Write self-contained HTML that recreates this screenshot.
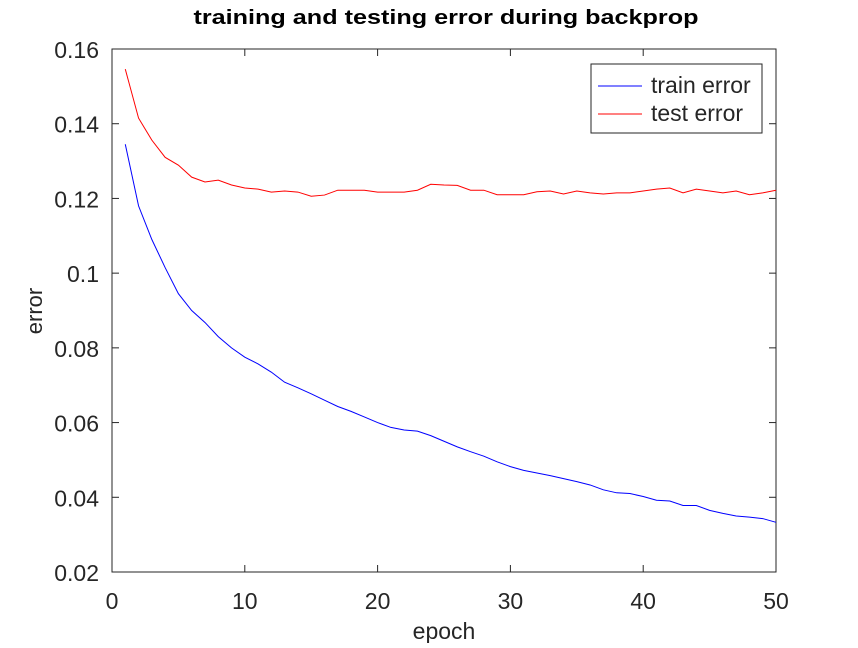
<!DOCTYPE html>
<html><head><meta charset="utf-8"><style>
body{margin:0;background:#fff;}
svg{font-family:"Liberation Sans",sans-serif;}
</style></head><body>
<svg id="chart" width="858" height="643">
<rect width="858" height="643" fill="#fff"/>
<text x="446" y="24" text-anchor="middle" font-size="20" font-weight="bold" textLength="505" lengthAdjust="spacingAndGlyphs">training and testing error during backprop</text>
<g id="axes"></g>
<g id="series"></g>
<g>
<rect x="591" y="64" width="171" height="69" fill="#fff" stroke="#262626" stroke-width="1"/>
<line x1="598" y1="86" x2="642" y2="86" stroke="#00f"/>
<text x="651" y="93" font-size="23" fill="#262626">train error</text>
<line x1="598" y1="114" x2="642" y2="114" stroke="#f00"/>
<text x="651" y="121" font-size="23" fill="#262626">test error</text>
</g>
</svg>
<script>
const epochs=[];for(let i=1;i<=50;i++)epochs.push(i);
const trainError=[0.1345,0.118,0.109,0.1015,0.0945,0.090,0.0868,0.083,0.080,0.0775,0.0757,0.0735,0.0708,0.0693,0.0677,0.066,0.0643,0.063,0.0615,0.060,0.0587,0.058,0.0577,0.0565,0.055,0.0535,0.0522,0.051,0.0495,0.0482,0.0472,0.0465,0.0458,0.045,0.0442,0.0433,0.042,0.0412,0.041,0.0402,0.0392,0.039,0.0378,0.0378,0.0365,0.0357,0.035,0.0347,0.0343,0.0333];
const testError=[0.1546,0.1415,0.1356,0.131,0.1289,0.1257,0.1244,0.1249,0.1236,0.1228,0.1225,0.1217,0.122,0.1217,0.1206,0.1209,0.1222,0.1222,0.1222,0.1217,0.1217,0.1217,0.1222,0.1238,0.1236,0.1235,0.1222,0.1222,0.121,0.121,0.121,0.1218,0.122,0.1212,0.122,0.1215,0.1212,0.1215,0.1215,0.122,0.1225,0.1228,0.1215,0.1225,0.122,0.1215,0.122,0.121,0.1215,0.1222];
const xTicks=[0,10,20,30,40,50];
const yTicks=[0.02,0.04,0.06,0.08,0.1,0.12,0.14,0.16];
const yTickLabels=["0.02","0.04","0.06","0.08","0.1","0.12","0.14","0.16"];
const L=112,R=776,T=49,B=572;
const xS=v=>L+(v-0)/50*(R-L);
const yS=v=>B-(v-0.02)/0.14*(B-T);
const NS="http://www.w3.org/2000/svg";
const C="#262626";
function mk(tag,attrs,parent){const e=document.createElementNS(NS,tag);for(const k in attrs)e.setAttribute(k,attrs[k]);parent.appendChild(e);return e;}
const ax=document.getElementById('axes');
const frame=mk('rect',{x:L,y:T,width:R-L,height:B-T,fill:'none',stroke:C,'stroke-width':1},ax);


xTicks.forEach(v=>{const x=xS(v);
mk('line',{x1:x,y1:B,x2:x,y2:B-7,stroke:C},ax);
mk('line',{x1:x,y1:T,x2:x,y2:T+7,stroke:C},ax);
const t=mk('text',{x:x,y:B+37,'text-anchor':'middle','font-size':23,fill:C},ax);t.textContent=v;

});
yTicks.forEach((v,i)=>{const y=yS(v);
mk('line',{x1:L,y1:y,x2:L+7,y2:y,stroke:C},ax);
mk('line',{x1:R,y1:y,x2:R-7,y2:y,stroke:C},ax);
const t=mk('text',{x:L-13,y:y+9,'text-anchor':'end','font-size':23,fill:C},ax);t.textContent=yTickLabels[i];

});
const xt=mk('text',{x:444,y:639,'text-anchor':'middle','font-size':23,fill:C},ax);xt.textContent='epoch';


const yt=mk('text',{x:42,y:311,'text-anchor':'middle','font-size':22,fill:C,transform:'rotate(-90 42 311)'},ax);yt.textContent='error';


const sg=document.getElementById('series');
const p1=mk('polyline',{points:epochs.map((e,i)=>xS(e)+','+yS(trainError[i])).join(' '),fill:'none',stroke:'#00f','stroke-width':1},sg);


const p2=mk('polyline',{points:epochs.map((e,i)=>xS(e)+','+yS(testError[i])).join(' '),fill:'none',stroke:'#f00','stroke-width':1},sg);


</script>
</body></html>
